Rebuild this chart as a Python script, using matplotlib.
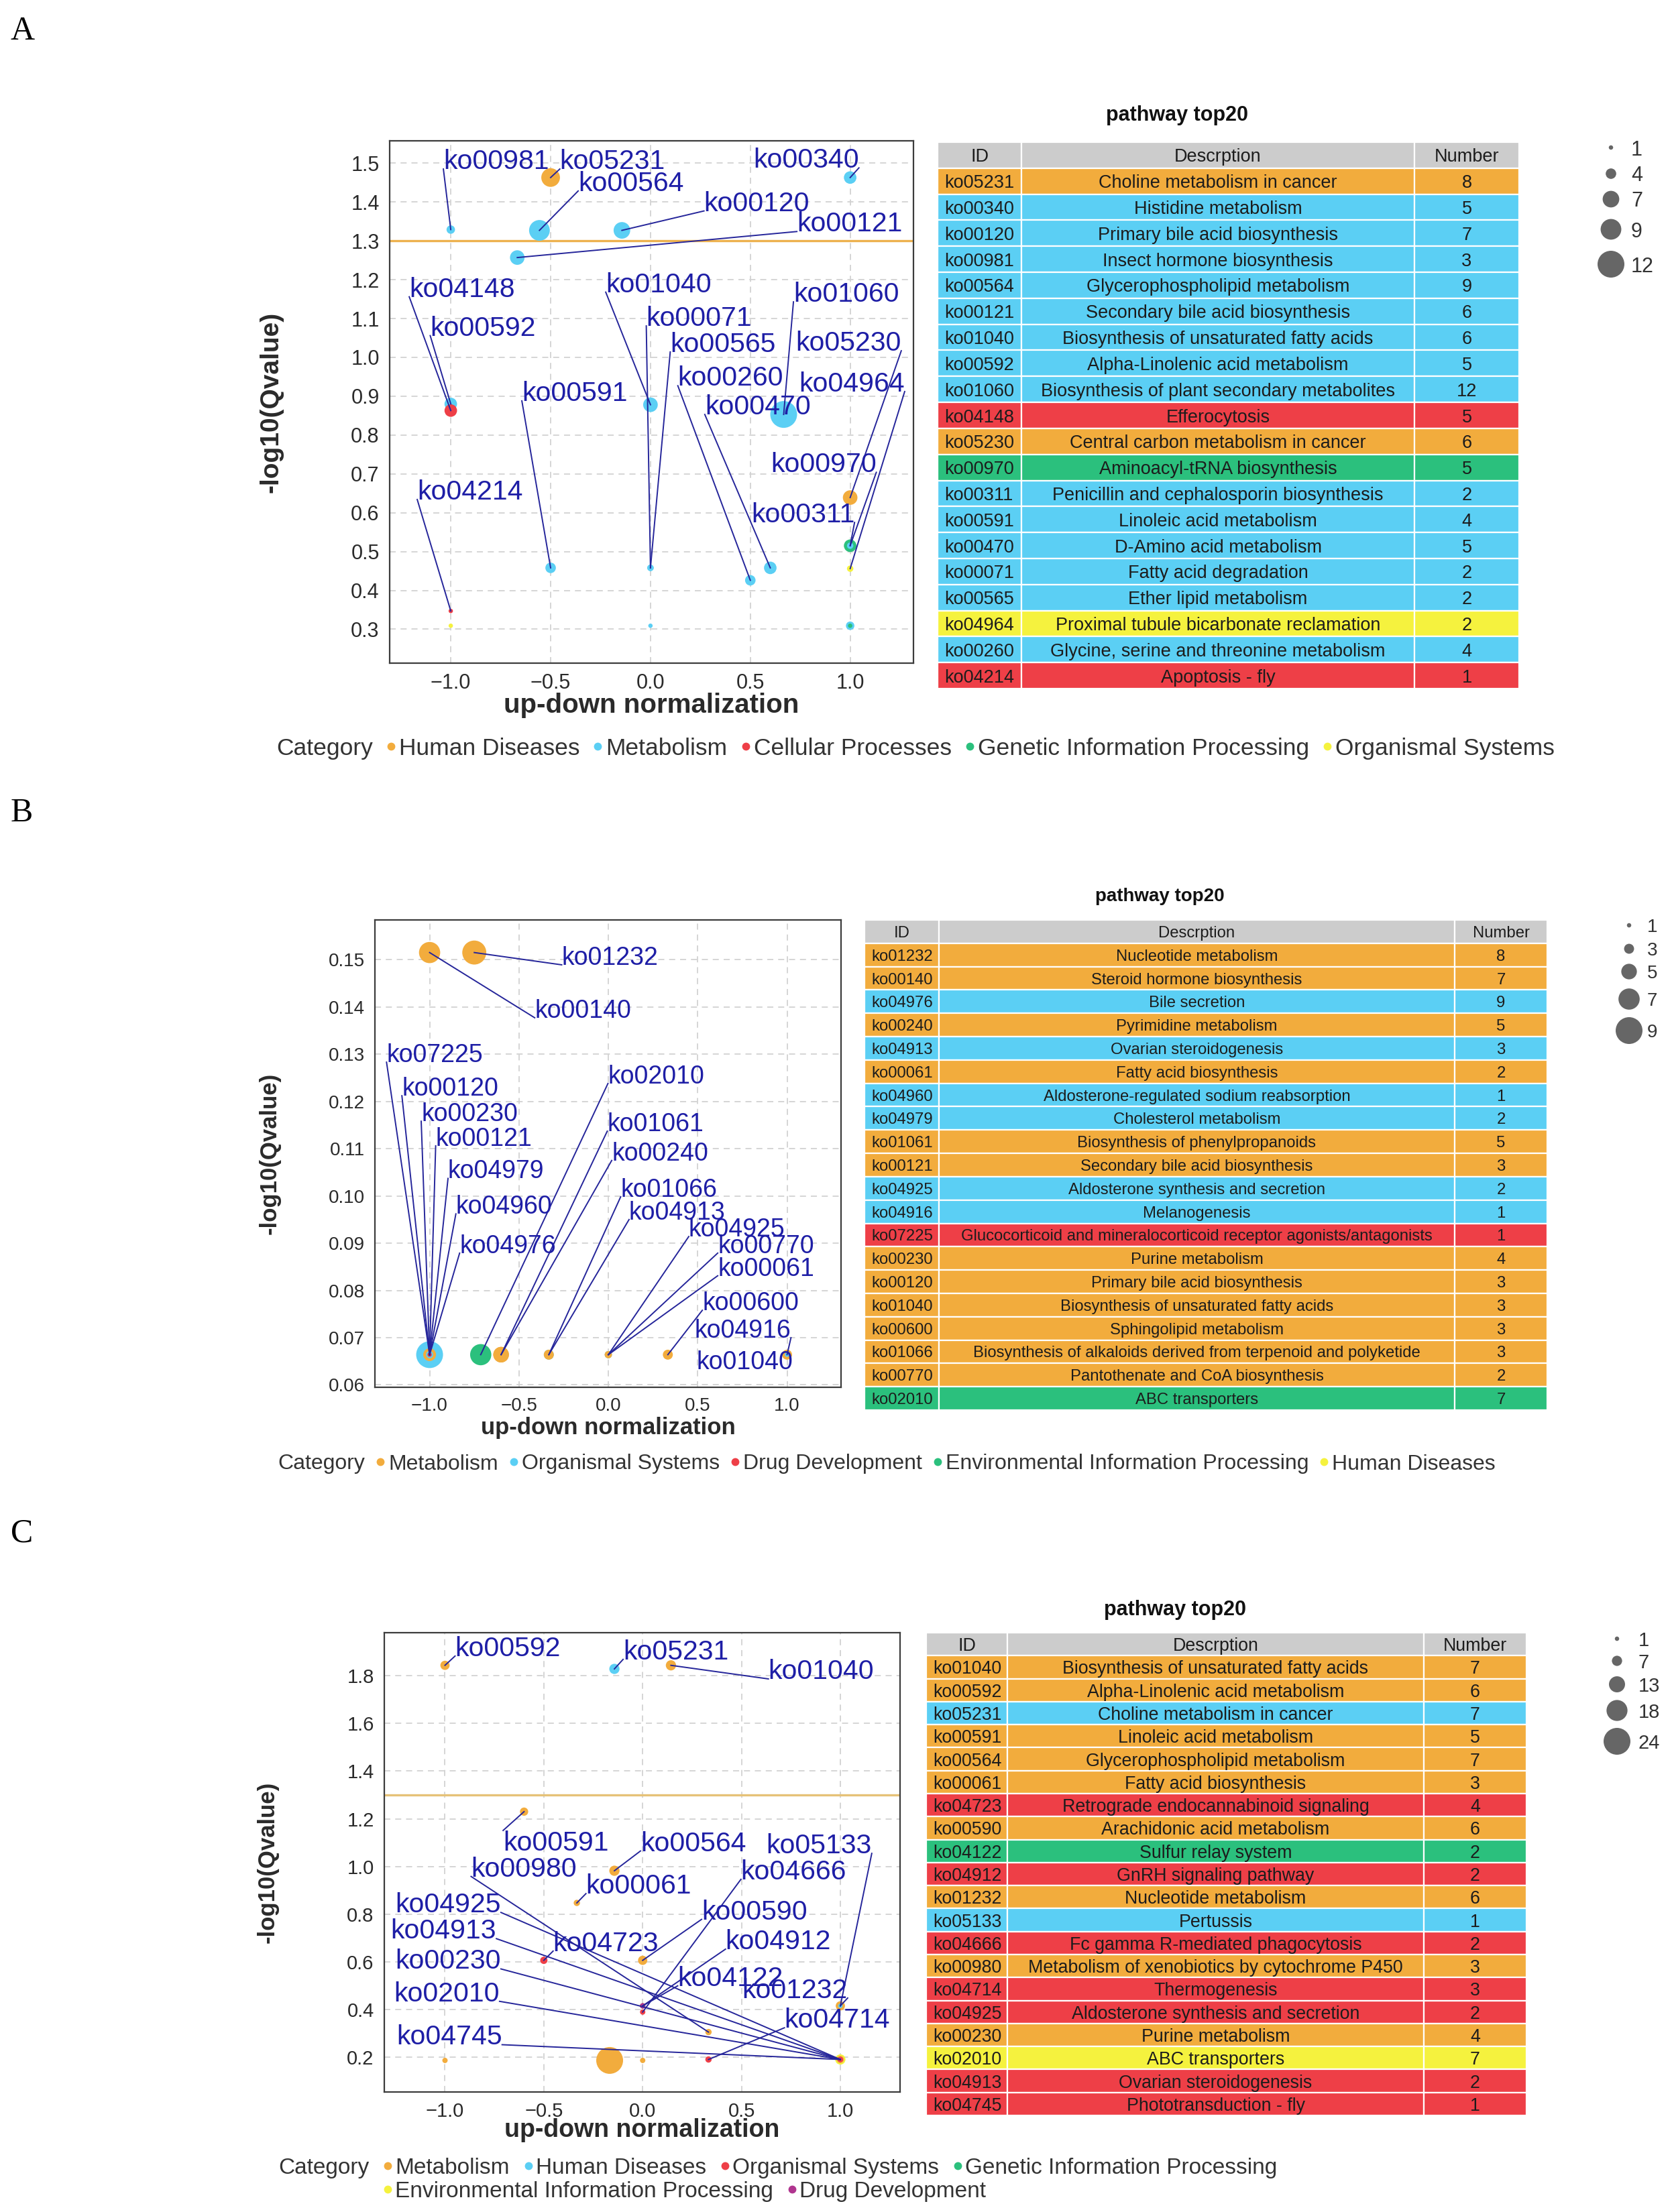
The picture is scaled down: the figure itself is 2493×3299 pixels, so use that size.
import matplotlib
matplotlib.use('Agg')
import matplotlib.pyplot as plt
from matplotlib.patches import Rectangle
from matplotlib.ticker import FuncFormatter
import numpy as np

plt.rcParams['font.family'] = ['Liberation Sans', 'DejaVu Sans']

# ---------------- colours ----------------
ORANGE = '#F2AC3D'
BLUE = '#5BCFF4'
RED = '#EE3F47'
GREEN = '#2BC07D'
YELLOW = '#F5F23E'
PURPLE = '#B0358F'
HEAD = '#CCCCCC'

# ================= PANEL A DATA =================
A_cat_names = ['Human Diseases', 'Metabolism', 'Cellular Processes',
               'Genetic Information Processing', 'Organismal Systems']
A_cat_cols = [ORANGE, BLUE, RED, GREEN, YELLOW]
A_ids = ['ko05231', 'ko00340', 'ko00120', 'ko00981', 'ko00564', 'ko00121', 'ko01040',
         'ko00592', 'ko01060', 'ko04148', 'ko05230', 'ko00970', 'ko00311', 'ko00591',
         'ko00470', 'ko00071', 'ko00565', 'ko04964', 'ko00260', 'ko04214']
A_desc = ['Choline metabolism in cancer', 'Histidine metabolism', 'Primary bile acid biosynthesis',
          'Insect hormone biosynthesis', 'Glycerophospholipid metabolism',
          'Secondary bile acid biosynthesis', 'Biosynthesis of unsaturated fatty acids',
          'Alpha-Linolenic acid metabolism', 'Biosynthesis of plant secondary metabolites',
          'Efferocytosis', 'Central carbon metabolism in cancer', 'Aminoacyl-tRNA biosynthesis',
          'Penicillin and cephalosporin biosynthesis', 'Linoleic acid metabolism',
          'D-Amino acid metabolism', 'Fatty acid degradation', 'Ether lipid metabolism',
          'Proximal tubule bicarbonate reclamation', 'Glycine, serine and threonine metabolism',
          'Apoptosis - fly']
A_num = [8, 5, 7, 3, 9, 6, 6, 5, 12, 5, 6, 5, 2, 4, 5, 2, 2, 2, 4, 1]
A_cat = ['Human Diseases', 'Metabolism', 'Metabolism', 'Metabolism', 'Metabolism', 'Metabolism',
         'Metabolism', 'Metabolism', 'Metabolism', 'Cellular Processes', 'Human Diseases',
         'Genetic Information Processing', 'Metabolism', 'Metabolism', 'Metabolism', 'Metabolism',
         'Metabolism', 'Organismal Systems', 'Metabolism', 'Cellular Processes']
A_x = [-0.5, 1.0, -0.143, -1.0, -0.556, -0.667, 0.0, -1.0, 0.667, -1.0, 1.0, 1.0, 1.0, -0.5,
       0.6, 0.0, 0.0, 1.0, 0.5, -1.0]
A_y = [1.463, 1.463, 1.327, 1.329, 1.327, 1.257, 0.878, 0.880, 0.853, 0.863, 0.639, 0.515,
       0.515, 0.458, 0.458, 0.458, 0.458, 0.456, 0.426, 0.347]
A_lab_x = [-0.454, 1.044, 0.268, -1.037, -0.362, 0.733, -0.224, -1.103, 0.716, -1.208, 1.256,
           1.131, 1.022, -0.644, 0.272, -0.021, 0.099, 1.273, 0.137, -1.168]
A_lab_y = [1.485, 1.488, 1.377, 1.485, 1.4285, 1.324, 1.168, 1.056, 1.143, 1.156, 1.017, 0.704,
           0.575, 0.888, 0.853, 1.081, 1.014, 0.912, 0.927, 0.634]
A_lab_side = ['L', 'R', 'L', 'L', 'L', 'L', 'L', 'L', 'L', 'L', 'R', 'R', 'R', 'L', 'L', 'L',
              'L', 'R', 'L', 'L']
A_lab_seg = [1] * 20
A_ex_x = [-1.0, 0.0, 1.0, 1.0]
A_ex_y = [0.309, 0.309, 0.309, 0.309]
A_ex_n = [1, 1, 3, 1]
A_ex_c = ['Organismal Systems', 'Metabolism', 'Metabolism', 'Genetic Information Processing']
A_size_breaks = [1, 4, 7, 9, 12]
A_yticks = [0.3, 0.4, 0.5, 0.6, 0.7, 0.8, 0.9, 1.0, 1.1, 1.2, 1.3, 1.4, 1.5]

# ================= PANEL B DATA =================
B_cat_names = ['Metabolism', 'Organismal Systems', 'Drug Development',
               'Environmental Information Processing', 'Human Diseases']
B_cat_cols = [ORANGE, BLUE, RED, GREEN, YELLOW]
B_ids = ['ko01232', 'ko00140', 'ko04976', 'ko00240', 'ko04913', 'ko00061', 'ko04960', 'ko04979',
         'ko01061', 'ko00121', 'ko04925', 'ko04916', 'ko07225', 'ko00230', 'ko00120', 'ko01040',
         'ko00600', 'ko01066', 'ko00770', 'ko02010']
B_desc = ['Nucleotide metabolism', 'Steroid hormone biosynthesis', 'Bile secretion',
          'Pyrimidine metabolism', 'Ovarian steroidogenesis', 'Fatty acid biosynthesis',
          'Aldosterone-regulated sodium reabsorption', 'Cholesterol metabolism',
          'Biosynthesis of phenylpropanoids', 'Secondary bile acid biosynthesis',
          'Aldosterone synthesis and secretion', 'Melanogenesis',
          'Glucocorticoid and mineralocorticoid receptor agonists/antagonists',
          'Purine metabolism', 'Primary bile acid biosynthesis',
          'Biosynthesis of unsaturated fatty acids', 'Sphingolipid metabolism',
          'Biosynthesis of alkaloids derived from terpenoid and polyketide',
          'Pantothenate and CoA biosynthesis', 'ABC transporters']
B_num = [8, 7, 9, 5, 3, 2, 1, 2, 5, 3, 2, 1, 1, 4, 3, 3, 3, 3, 2, 7]
B_cat = ['Metabolism', 'Metabolism', 'Organismal Systems', 'Metabolism', 'Organismal Systems',
         'Metabolism', 'Organismal Systems', 'Organismal Systems', 'Metabolism', 'Metabolism',
         'Organismal Systems', 'Organismal Systems', 'Drug Development', 'Metabolism',
         'Metabolism', 'Metabolism', 'Metabolism', 'Metabolism', 'Metabolism',
         'Environmental Information Processing']
B_x = [-0.75, -1.0, -1.0, -0.6, -0.333, 0.0, -1.0, -1.0, -0.6, -1.0, 0.0, 1.0, -1.0, -1.0,
       -1.0, 1.0, 0.333, -0.333, 0.0, -0.714]
B_y = [0.1515, 0.1515, 0.0664, 0.0664, 0.0664, 0.0664, 0.0664, 0.0664, 0.0664, 0.0664,
       0.0664, 0.0664, 0.0664, 0.0664, 0.0664, 0.0664, 0.0664, 0.0664, 0.0664, 0.0664]
B_lab_x = [-0.261, -0.412, -0.832, 0.019, 0.116, 0.612, -0.853, -0.897, -0.006, -0.966, 0.450,
           1.022, -1.241, -1.047, -1.155, 0.494, 0.526, 0.069, 0.612, -0.002]
B_lab_y = [0.1489, 0.1377, 0.0879, 0.1075, 0.0950, 0.0831, 0.0962, 0.1037, 0.1137, 0.1106,
           0.0914, 0.0700, 0.1283, 0.1158, 0.1212, 0.0633, 0.0758, 0.0998, 0.0879, 0.1238]
B_lab_side = ['L'] * 11 + ['R'] + ['L'] * 8
B_lab_seg = [1] * 15 + [0] + [1] * 4
B_ex_x, B_ex_y, B_ex_n, B_ex_c = [], [], [], []
B_size_breaks = [1, 3, 5, 7, 9]
B_yticks = [0.06, 0.07, 0.08, 0.09, 0.10, 0.11, 0.12, 0.13, 0.14, 0.15]

# ================= PANEL C DATA =================
C_cat_names = ['Metabolism', 'Human Diseases', 'Organismal Systems',
               'Genetic Information Processing', 'Environmental Information Processing',
               'Drug Development']
C_cat_cols = [ORANGE, BLUE, RED, GREEN, YELLOW, PURPLE]
C_ids = ['ko01040', 'ko00592', 'ko05231', 'ko00591', 'ko00564', 'ko00061', 'ko04723', 'ko00590',
         'ko04122', 'ko04912', 'ko01232', 'ko05133', 'ko04666', 'ko00980', 'ko04714', 'ko04925',
         'ko00230', 'ko02010', 'ko04913', 'ko04745']
C_desc = ['Biosynthesis of unsaturated fatty acids', 'Alpha-Linolenic acid metabolism',
          'Choline metabolism in cancer', 'Linoleic acid metabolism',
          'Glycerophospholipid metabolism', 'Fatty acid biosynthesis',
          'Retrograde endocannabinoid signaling', 'Arachidonic acid metabolism',
          'Sulfur relay system', 'GnRH signaling pathway', 'Nucleotide metabolism', 'Pertussis',
          'Fc gamma R-mediated phagocytosis', 'Metabolism of xenobiotics by cytochrome P450',
          'Thermogenesis', 'Aldosterone synthesis and secretion', 'Purine metabolism',
          'ABC transporters', 'Ovarian steroidogenesis', 'Phototransduction - fly']
C_num = [7, 6, 7, 5, 7, 3, 4, 6, 2, 2, 6, 1, 2, 3, 3, 2, 4, 7, 2, 1]
C_cat = ['Metabolism', 'Metabolism', 'Human Diseases', 'Metabolism', 'Metabolism', 'Metabolism',
         'Organismal Systems', 'Metabolism', 'Genetic Information Processing',
         'Organismal Systems', 'Metabolism', 'Human Diseases', 'Organismal Systems',
         'Metabolism', 'Organismal Systems', 'Organismal Systems', 'Metabolism',
         'Environmental Information Processing', 'Organismal Systems', 'Organismal Systems']
C_x = [0.143, -1.0, -0.143, -0.6, -0.143, -0.333, -0.5, 0.0, 0.0, 0.0, 1.0, 1.0, 0.0, 0.333,
       0.333, 1.0, 1.0, 1.0, 1.0, 1.0]
C_y = [1.844, 1.844, 1.829, 1.230, 0.982, 0.847, 0.606, 0.606, 0.415, 0.415, 0.415, 0.415,
       0.389, 0.305, 0.190, 0.190, 0.190, 0.190, 0.190, 0.190]
C_lab_x = [0.636, -0.949, -0.099, -0.706, -0.011, -0.287, -0.453, 0.298, 0.177, 0.419, 1.037,
           1.159, 0.497, -0.868, 0.717, -0.717, -0.717, -0.724, -0.740, -0.711]
C_lab_y = [1.787, 1.883, 1.869, 1.151, 1.065, 0.886, 0.645, 0.778, 0.499, 0.653, 0.448, 1.055,
           0.946, 0.958, 0.323, 0.807, 0.570, 0.434, 0.697, 0.252]
C_lab_side = ['L', 'L', 'L', 'TL', 'L', 'L', 'L', 'L', 'L', 'L', 'R', 'R', 'L', 'L', 'L', 'R',
              'R', 'R', 'R', 'R']
C_lab_seg = [1] * 20
C_ex_x = [-0.167, -1.0, 0.0, 0.0]
C_ex_y = [0.186, 0.186, 0.186, 0.415]
C_ex_n = [24, 2, 2, 2]
C_ex_c = ['Metabolism', 'Metabolism', 'Metabolism', 'Drug Development']
C_size_breaks = [1, 7, 13, 18, 24]
C_yticks = [0.2, 0.4, 0.6, 0.8, 1.0, 1.2, 1.4, 1.6, 1.8]

THRESH = 1.301  # -log10(0.05)

# ================= FIGURE =================
W, H, DPI = 2493, 3299, 100
fig = plt.figure(figsize=(W / DPI, H / DPI), dpi=DPI)
fig.patch.set_facecolor('white')

ov = fig.add_axes([0, 0, 1, 1], zorder=5)
ov.set_xlim(0, W)
ov.set_ylim(H, 0)
ov.set_autoscale_on(False)
ov.axis('off')
ov.patch.set_visible(False)

D_MIN, D_MAX = 6.5, 40.0
LAB_COL = '#1E1EA6'
SEG_COL = '#25259A'
TXT = '#1c1c1c'
GRAY_TXT = '#333333'


def size_pt2(n, nmin, nmax):
    d = D_MIN + (D_MAX - D_MIN) * (np.asarray(n, float) - nmin) / (nmax - nmin)
    return (d * 72.0 / DPI) ** 2


def minus_fmt(fmt):
    return FuncFormatter(lambda v, p: fmt.format(v).replace('-', '\u2212'))


def draw_panel(box, xlim, ylim, yticks, yfmt, ids, xs, ys, nums, cats, lab_x, lab_y, lab_side,
               lab_seg, ex_x, ex_y, ex_n, ex_c, cat_names, cat_cols, breaks, lab_fs, tick_fs,
               thresh, thresh_col, xlab_y, xlab_fs, ylab_x, ylab_fs):
    l, r, t, b = box
    ax = fig.add_axes([l / W, 1 - b / H, (r - l) / W, (b - t) / H])
    cmap = dict(zip(cat_names, cat_cols))
    allx = list(xs) + list(ex_x)
    ally = list(ys) + list(ex_y)
    alln = list(nums) + list(ex_n)
    allc = list(cats) + list(ex_c)
    order = sorted(range(len(allx)), key=lambda i: -alln[i])
    nmin, nmax = min(breaks), max(breaks)
    ax.scatter([allx[i] for i in order], [ally[i] for i in order],
               s=size_pt2([alln[i] for i in order], nmin, nmax),
               c=[cmap[allc[i]] for i in order], linewidths=0, zorder=3)
    for i, k in enumerate(ids):
        ha = 'right' if lab_side[i] == 'R' else 'left'
        va = 'top' if lab_side[i] == 'TL' else 'baseline'
        if lab_seg[i]:
            ax.plot([xs[i], lab_x[i]], [ys[i], lab_y[i]], color=SEG_COL, lw=1.4, zorder=4,
                    clip_on=False)
        ax.text(lab_x[i], lab_y[i], k, ha=ha, va=va, fontsize=lab_fs, color=LAB_COL, zorder=5,
                clip_on=False)
    if thresh is not None:
        ax.axhline(thresh, color=thresh_col, lw=2.4, zorder=2)
    ax.set_xlim(xlim)
    ax.set_ylim(ylim)
    ax.set_xticks([-1.0, -0.5, 0.0, 0.5, 1.0])
    ax.set_yticks(yticks)
    ax.xaxis.set_major_formatter(minus_fmt('{:.1f}'))
    ax.yaxis.set_major_formatter(minus_fmt(yfmt))
    ax.tick_params(length=0, pad=11, labelsize=tick_fs, colors='#2a2a2a')
    ax.grid(True, color='#D2D2D2', ls=(0, (5, 4)), lw=1.3)
    ax.set_axisbelow(True)
    for sp in ax.spines.values():
        sp.set_color('#3c3c3c')
        sp.set_linewidth(1.6)
    ov.text((l + r) / 2, xlab_y, 'up-down normalization', ha='center', va='center',
            fontsize=xlab_fs, fontweight='bold', color='#2a2a2a')
    ov.text(ylab_x, (t + b) / 2, '-log10(Qvalue)', ha='center', va='center', rotation=90,
            fontsize=ylab_fs, fontweight='bold', color='#2a2a2a')
    return ax


def draw_table(x0, x1, c1, c2, y0, y1, ids, desc, nums, cats, cat_names, cat_cols, fs,
               title_xy, title_fs):
    cmap = dict(zip(cat_names, cat_cols))
    nrow = len(ids) + 1
    rh = (y1 - y0) / nrow
    cols = [(x0, c1), (c1, c2), (c2, x1)]
    header = ['ID', 'Descrption', 'Number']
    for j, (a, bb) in enumerate(cols):
        ov.add_patch(Rectangle((a, y0), bb - a, rh, fc=HEAD, ec='white', lw=1.6))
        ov.text((a + bb) / 2, y0 + rh / 2, header[j], ha='center', va='center_baseline',
                fontsize=fs, color=TXT)
    for i in range(len(ids)):
        yy = y0 + (i + 1) * rh
        fc = cmap[cats[i]]
        for (a, bb) in cols:
            ov.add_patch(Rectangle((a, yy), bb - a, rh, fc=fc, ec='white', lw=1.6))
        ym = yy + rh / 2
        ov.text(x0 + 10, ym, ids[i], ha='left', va='center_baseline', fontsize=fs, color=TXT)
        ov.text((c1 + c2) / 2, ym, desc[i], ha='center', va='center_baseline', fontsize=fs,
                color=TXT)
        ov.text((c2 + x1) / 2, ym, str(nums[i]), ha='center', va='center_baseline',
                fontsize=fs, color=TXT)
    ov.text(title_xy[0], title_xy[1], 'pathway top20', ha='center', va='center',
            fontsize=title_fs, fontweight='bold', color='#111111')


def draw_size_legend(dot_x, lab_x, ys, breaks, fs):
    nmin, nmax = min(breaks), max(breaks)
    ov.scatter([dot_x] * len(breaks), ys, s=size_pt2(breaks, nmin, nmax), c='#666666',
               linewidths=0, zorder=6)
    for y, v in zip(ys, breaks):
        ov.text(lab_x, y, str(v), ha='left', va='center_baseline', fontsize=fs, color=GRAY_TXT)


renderer = fig.canvas.get_renderer()


def text_w(t):
    return t.get_window_extent(renderer).width


def draw_cat_legend(rows, x_start, ys, fs, cat_names, cat_cols, gap=27, dot_txt=12):
    cmap = dict(zip(cat_names, cat_cols))
    t = ov.text(x_start, ys[0], 'Category', ha='left', va='center_baseline', fontsize=fs,
                color=GRAY_TXT)
    x = x_start + text_w(t) + gap
    first = x
    for r, row in enumerate(rows):
        if r > 0:
            x = first
        for name in row:
            ov.plot([x], [ys[r]], 'o', ms=8.5, color=cmap[name], mec='none', zorder=6)
            t = ov.text(x + dot_txt, ys[r], name, ha='left', va='center_baseline', fontsize=fs,
                        color=GRAY_TXT)
            x = x + dot_txt + text_w(t) + gap


# ---- panel letters ----
for letter, yb in zip(['A', 'B', 'C'], [59, 1225, 2300]):
    ov.text(16, yb, letter, ha='left', va='baseline', fontsize=36,
            family=['Liberation Serif', 'DejaVu Serif'], color='black')

# ---- Panel A ----
draw_panel((581, 1362, 210, 989), (-1.306, 1.317), (0.2127, 1.5576), A_yticks, '{:.1f}',
           A_ids, A_x, A_y, A_num, A_cat, A_lab_x, A_lab_y, A_lab_side, A_lab_seg,
           A_ex_x, A_ex_y, A_ex_n, A_ex_c, A_cat_names, A_cat_cols, A_size_breaks,
           29.5, 22, THRESH, '#EDB14E', 1052, 29, 405, 28)
draw_table(1398, 2265, 1523, 2109, 212, 1027, A_ids, A_desc, A_num, A_cat,
           A_cat_names, A_cat_cols, 19.5, (1755, 172), 22)
draw_size_legend(2402, 2432, [220, 259, 297, 342, 394], A_size_breaks, 22)
draw_cat_legend([A_cat_names], 412, [1113], 25.5, A_cat_names, A_cat_cols)

# ---- Panel B ----
draw_panel((559, 1254, 1372, 2069), (-1.306, 1.302), (0.0595, 0.1584), B_yticks, '{:.2f}',
           B_ids, B_x, B_y, B_num, B_cat, B_lab_x, B_lab_y, B_lab_side, B_lab_seg,
           B_ex_x, B_ex_y, B_ex_n, B_ex_c, B_cat_names, B_cat_cols, B_size_breaks,
           27, 20, None, None, 2129, 25, 402, 25)
draw_table(1289, 2307, 1400, 2169, 1372, 2103, B_ids, B_desc, B_num, B_cat,
           B_cat_names, B_cat_cols, 17.2, (1729, 1337), 20)
draw_size_legend(2429, 2456, [1380, 1415, 1449, 1490, 1537], B_size_breaks, 20)
draw_cat_legend([B_cat_names], 414, [2180], 23, B_cat_names, B_cat_cols, gap=23)

# ---- Panel C ----
draw_panel((573, 1342, 2435, 3120), (-1.307, 1.302), (0.0536, 1.981), C_yticks, '{:.1f}',
           C_ids, C_x, C_y, C_num, C_cat, C_lab_x, C_lab_y, C_lab_side, C_lab_seg,
           C_ex_x, C_ex_y, C_ex_n, C_ex_c, C_cat_names, C_cat_cols, C_size_breaks,
           29.5, 21, THRESH, '#E6C278', 3177, 27, 399, 25)
draw_table(1381, 2276, 1502, 2123, 2435, 3155, C_ids, C_desc, C_num, C_cat,
           C_cat_names, C_cat_cols, 19.3, (1752, 2401), 22)
draw_size_legend(2411, 2443, [2444, 2477, 2512, 2551, 2597], C_size_breaks, 21)
draw_cat_legend([C_cat_names[:4], C_cat_names[4:]], 415, [3230, 3265], 24,
                C_cat_names, C_cat_cols, gap=28, dot_txt=11)

fig.savefig('out.png', dpi=DPI, facecolor='white')
